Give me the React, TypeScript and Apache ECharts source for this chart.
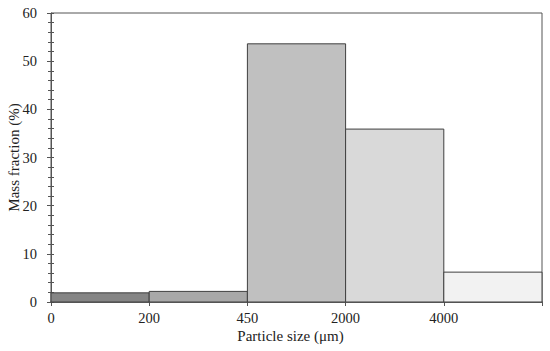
import React, { useEffect, useRef } from "react";
import * as echarts from "echarts";

const binLabels = ["0–200", "200–450", "450–2000", "2000–4000", ">4000"];
const massFraction = [1.9, 2.2, 53.6, 35.9, 6.2];
const binColors = ["#858585", "#a8a8a8", "#c0c0c0", "#d9d9d9", "#f2f2f2"];
const xTickLabels = ["0", "200", "450", "2000", "4000", ""];
const yTicks = { min: 0, max: 60, interval: 10 };

const FONT = "'Liberation Serif', 'Times New Roman', serif";
const AXIS = "#555555";

export default function App() {
  const ref = useRef<HTMLDivElement>(null);
  useEffect(() => {
    if (!ref.current) return;
    const chart = echarts.init(ref.current, undefined, { renderer: "svg" });
    const data = massFraction.map((v, i) => [i, i + 1, v, binLabels[i]]);
    chart.setOption({
      animation: false,
      grid: {
        left: 51,
        right: 8,
        top: 13,
        bottom: 49,
        containLabel: false,
        outerBoundsMode: "none",
        show: true,
        borderColor: AXIS,
        borderWidth: 1,
      },
      xAxis: {
        type: "value",
        min: 0,
        max: binLabels.length,
        interval: 1,
        name: "Particle size (μm)",
        nameLocation: "middle",
        nameGap: 26,
        nameMoveOverlap: false,
        nameTextStyle: { fontFamily: FONT, fontSize: 15, color: "#222", padding: [0, 12, 0, 0] },
        axisLine: { show: true, lineStyle: { color: AXIS, width: 1.5 } },
        axisTick: { show: true, inside: false, length: 4, lineStyle: { color: AXIS } },
        axisLabel: {
          fontFamily: FONT,
          fontSize: 14.5,
          color: "#222",
          margin: 8,
          formatter: (v: number) => xTickLabels[v] ?? "",
        },
        splitLine: { show: false },
      },
      yAxis: [
        {
          type: "value",
          min: yTicks.min,
          max: yTicks.max,
          interval: yTicks.interval,
          name: "Mass fraction (%)",
          nameLocation: "middle",
          nameGap: 30,
          nameMoveOverlap: false,
          nameTextStyle: { fontFamily: FONT, fontSize: 15, color: "#222" },
          axisLine: { show: true, lineStyle: { color: AXIS, width: 1 } },
          axisTick: { show: true, inside: false, length: 4, lineStyle: { color: AXIS } },
          minorTick: { show: true, splitNumber: 5, length: 3, lineStyle: { color: AXIS } },
          axisLabel: { fontFamily: FONT, fontSize: 14.5, color: "#222", margin: 14 },
          splitLine: { show: false },
        },
        {
          type: "value",
          position: "left",
          min: yTicks.min,
          max: yTicks.max,
          interval: yTicks.interval,
          axisLine: { show: false },
          axisTick: { show: true, inside: true, length: 3, lineStyle: { color: AXIS } },
          minorTick: { show: true, splitNumber: 5, length: 3, lineStyle: { color: AXIS } },
          axisLabel: { show: false },
          splitLine: { show: false },
        },
      ],
      series: [
        {
          type: "custom",
          xAxisIndex: 0,
          yAxisIndex: 0,
          data,
          encode: { x: [0, 1], y: 2 },
          renderItem: (params: any, api: any) => {
            const p0 = api.coord([api.value(0), api.value(2)]);
            const p1 = api.coord([api.value(1), 0]);
            return {
              type: "rect",
              shape: { x: p0[0], y: p0[1], width: p1[0] - p0[0], height: p1[1] - p0[1] },
              style: { fill: binColors[params.dataIndex], stroke: "#3f3f3f", lineWidth: 1 },
            };
          },
        },
      ],
    });
    return () => chart.dispose();
  }, []);
  return <div ref={ref} style={{ width: 550, height: 351, position: "absolute", left: 0, top: 0 }} />;
}
